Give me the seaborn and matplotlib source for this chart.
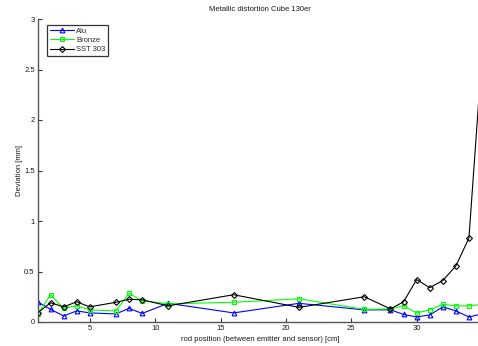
import matplotlib
matplotlib.use("Agg")
import matplotlib.pyplot as plt
import seaborn as sns
import pandas as pd

# rod positions in cm
positions = [1, 2, 3, 4, 5, 7, 8, 9, 11, 16, 21, 26, 28, 29, 30, 31, 32, 33, 34, 35]

# deviation in mm per material
alu = [0.20, 0.125, 0.06, 0.11, 0.09, 0.08, 0.135, 0.085, 0.185, 0.09, 0.185,
       0.12, 0.12, 0.075, 0.05, 0.07, 0.15, 0.11, 0.05, 0.08]
bronze = [0.075, 0.27, 0.135, 0.16, 0.12, 0.11, 0.285, 0.21, 0.18, 0.195, 0.23,
          0.125, 0.13, 0.16, 0.09, 0.12, 0.175, 0.16, 0.16, 0.175]
sst303 = [0.09, 0.19, 0.15, 0.20, 0.15, 0.195, 0.225, 0.22, 0.16, 0.27, 0.145,
          0.25, 0.13, 0.20, 0.42, 0.34, 0.41, 0.555, 0.83, 2.65]

x_ticks = [5, 10, 15, 20, 25, 30]
y_ticks = [0, 0.5, 1, 1.5, 2, 2.5, 3]

series = [
    ("Alu", alu, (0, 0, 1), "^"),
    ("Bronze", bronze, (0, 1, 0), "s"),
    ("SST 303", sst303, (0, 0, 0), "D"),
]

sns.set_theme(style="white")
plt.rcParams["font.family"] = ["Liberation Sans", "DejaVu Sans"]
fs = 5.5

fig = plt.figure(figsize=(4.78, 3.46), dpi=100)
W, H = 478, 346
left, right, top, bottom = 37.5, 482, 19, 322
ax = fig.add_axes([left / W, 1 - bottom / H, (right - left) / W, (bottom - top) / H])

for name, vals, col, mk in series:
    df = pd.DataFrame({"pos": positions, "dev": vals})
    sns.lineplot(data=df, x="pos", y="dev", ax=ax, color=col, linewidth=0.8,
                 marker=mk, markersize=3.4 if mk != "D" else 3.0,
                 markerfacecolor="none", markeredgecolor=col, markeredgewidth=0.8,
                 label=name)

ax.set_xlim(1, 35)
ax.set_ylim(0, 3)
ax.set_xticks(x_ticks)
ax.set_xticklabels([str(t) for t in x_ticks])
ax.set_yticks(y_ticks)
ax.set_yticklabels([f"{t:g}" for t in y_ticks])
ax.tick_params(axis="both", direction="in", length=3, width=0.8, color="#333333",
               labelsize=fs, labelcolor="#1a1a1a", pad=2,
               bottom=True, left=True)

for s in ("top", "right"):
    ax.spines[s].set_visible(False)
for s in ("left", "bottom"):
    ax.spines[s].set_color("#555555")
    ax.spines[s].set_linewidth(1.0)

ax.set_title("Metallic distortion Cube 130er", fontsize=fs, color="#1a1a1a", pad=6)
ax.set_xlabel("rod position (between emitter and sensor) [cm]", fontsize=fs,
              color="#1a1a1a", labelpad=3)
ax.set_ylabel("Deviation [mm]", fontsize=fs, color="#1a1a1a", labelpad=1)

leg = ax.legend(loc="upper left", bbox_to_anchor=(0.022, 0.98), fontsize=fs,
                frameon=True, fancybox=False, handlelength=3.2, handletextpad=0.3,
                borderpad=0.3, labelspacing=0.25, borderaxespad=0)
leg.get_frame().set_edgecolor("black")
leg.get_frame().set_linewidth(0.9)

fig.savefig("out.png", dpi=100)
